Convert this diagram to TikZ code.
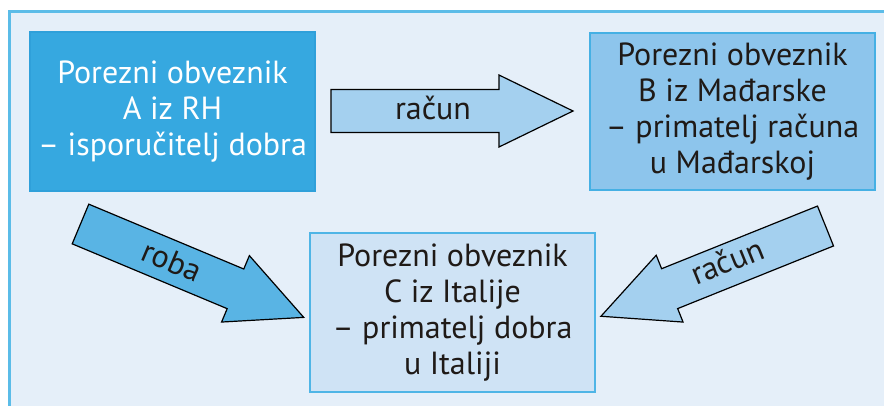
\documentclass[tikz,border=0pt]{standalone}
\usepackage{fontspec}
\setmainfont{PT Sans}
\definecolor{bg}{HTML}{E5EFF9}
\definecolor{frameblue}{HTML}{5BBCE8}
\definecolor{fillA}{HTML}{36A8E0}
\definecolor{drawA}{HTML}{2FA0DA}
\definecolor{fillB}{HTML}{8DC5EC}
\definecolor{drawB}{HTML}{45B0E4}
\definecolor{fillC}{HTML}{CFE3F5}
\definecolor{drawC}{HTML}{4FB5E6}
\definecolor{arrlight}{HTML}{A4D0EF}
\definecolor{arrdark}{HTML}{59B4E4}
\definecolor{txt}{HTML}{1F1A17}
\tikzset{
  barrow/.pic={\draw[pic actions] (0,-21.5) -- (168,-21.5) -- (168,-36) -- (242,0) -- (168,36) -- (168,21.5) -- (0,21.5) -- cycle;},
  box/.style={line width=1.3pt, align=center, inner sep=0pt, minimum width=285pt,
    font=\fontsize{32}{36}\selectfont},
  arrstyle/.style={draw=black, line width=1.2pt, fill=#1},
  lbl/.style={font=\fontsize{32}{36}\selectfont, text=txt, inner sep=0pt}
}
\begin{document}
\begin{tikzpicture}[x=1pt,y=-1pt]
\useasboundingbox (0,0) rectangle (884,405);
\fill[white] (0,0) rectangle (884,405);
\begin{scope}
\clip (0,0) rectangle (884,405);
\draw[frameblue, fill=bg, line width=2.2pt] (9.5,11.5) rectangle (900,420);
\end{scope}
\node[box, draw=drawA, fill=fillA, text=white, minimum height=159pt] (A) at (172.5,111.5)
  {Porezni obveznik\\A iz RH\\– isporučitelj dobra};
\node[box, draw=drawB, fill=fillB, text=txt, minimum height=157pt] (B) at (732.5,111.5)
  {Porezni obveznik\\B iz Mađarske\\– primatelj računa\\u Mađarskoj};
\node[box, draw=drawC, fill=fillC, text=txt, minimum height=159pt] (C) at (452.5,312.5)
  {Porezni obveznik\\C iz Italije\\– primatelj dobra\\u Italiji};
\coordinate (t1) at (331,111);
\coordinate (t2) at (80.5,224);
\coordinate (t3) at (825.5,226);
\pic[arrstyle=arrlight] at (t1) {barrow};
\pic[arrstyle=arrdark, rotate=-22.7] at (t2) {barrow};
\pic[arrstyle=arrlight, rotate=-158.1] at (t3) {barrow};
\node[lbl, anchor=base] (l1) at (433,119) {račun};
\node[lbl, rotate=-23] (l2) at (172,261) {roba};
\node[lbl, rotate=22] (l3) at (727,261) {račun};
\end{tikzpicture}
\end{document}
